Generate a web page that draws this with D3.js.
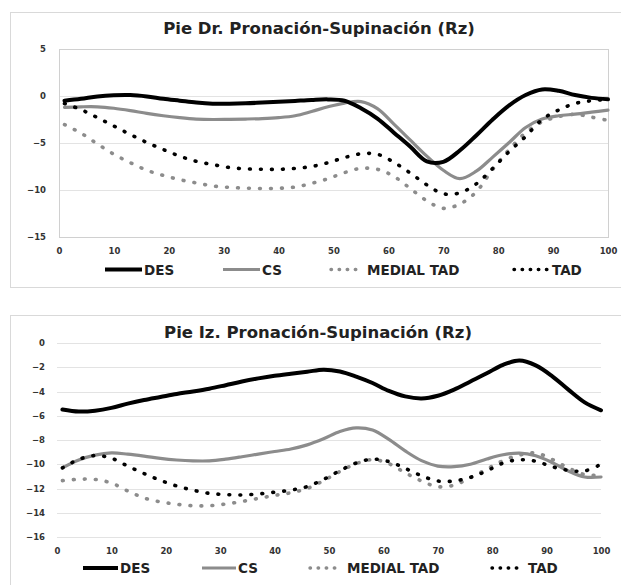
<!DOCTYPE html>
<html>
<head>
<meta charset="utf-8">
<script src="https://cdn.jsdelivr.net/npm/d3@7"></script>
<style>
  body { margin: 0; background: #fff; }
  svg text { font-family: "DejaVu Sans", sans-serif; font-weight: bold; }
</style>
</head>
<body>
<svg id="chart" width="621" height="585"></svg>
<script>
// % of the cycle (shared by every series)
const pct = [1, 4, 7, 10, 13, 16, 19, 22, 25, 28, 31, 34, 37, 40, 43, 46, 49, 52, 55, 58,
             61, 64, 67, 70, 73, 76, 79, 82, 85, 88, 91, 94, 97, 100];
const seriesNames = ["DES", "CS", "MEDIAL TAD", "TAD"];
const ticksX = [0, 10, 20, 30, 40, 50, 60, 70, 80, 90, 100];

// Pie Dr. (right foot)
const drTitle = "Pie Dr. Pronación-Supinación (Rz)";
const drTicksY = [5, 0, -5, -10, -15];
const drDES = [-0.5, -0.3, -0.05, 0.08, 0.1, -0.05, -0.3, -0.5, -0.7, -0.82, -0.82, -0.78, -0.7, -0.62,
               -0.52, -0.42, -0.36, -0.5, -1.3, -2.4, -3.9, -5.4, -6.95, -7.0, -5.8, -4.2, -2.5, -1.0,
               0.1, 0.7, 0.55, 0.1, -0.2, -0.35];
const drCS = [-1.2, -1.15, -1.15, -1.3, -1.55, -1.85, -2.1, -2.3, -2.45, -2.5, -2.48, -2.45, -2.4, -2.3,
              -2.1, -1.65, -1.15, -0.75, -0.6, -1.35, -3.0, -4.7, -6.4, -7.9, -8.8, -8.0, -6.5, -4.95,
              -3.35, -2.45, -2.1, -1.93, -1.72, -1.5];
const drMedial = [-3.05, -3.95, -5.1, -6.2, -7.1, -7.9, -8.45, -8.9, -9.25, -9.57, -9.72, -9.8, -9.85, -9.82,
                  -9.68, -9.3, -8.8, -8.15, -7.7, -7.8, -8.55, -9.85, -11.15, -11.95, -11.5, -10.2, -7.8, -5.7,
                  -3.9, -2.75, -2.2, -1.95, -2.25, -2.6];
const drTAD = [-0.8, -1.45, -2.3, -3.2, -4.1, -4.95, -5.7, -6.4, -6.95, -7.3, -7.6, -7.75, -7.8, -7.8,
               -7.7, -7.5, -7.1, -6.55, -6.15, -6.2, -7.05, -8.2, -9.45, -10.4, -10.3, -9.35, -7.7, -5.9,
               -4.3, -2.5, -1.5, -0.8, -0.5, -0.35];

// Pie Iz. (left foot)
const izTitle = "Pie Iz. Pronación-Supinación (Rz)";
const izTicksY = [0, -2, -4, -6, -8, -10, -12, -14, -16];
const izDES = [-5.48, -5.65, -5.58, -5.35, -5.0, -4.7, -4.45, -4.2, -4.0, -3.77, -3.48, -3.18, -2.92, -2.7,
               -2.53, -2.37, -2.2, -2.35, -2.77, -3.3, -3.95, -4.4, -4.57, -4.35, -3.84, -3.17, -2.5, -1.8,
               -1.45, -1.85, -2.73, -3.85, -4.9, -5.55];
const izCS = [-10.3, -9.65, -9.25, -9.07, -9.17, -9.33, -9.52, -9.65, -9.72, -9.72, -9.58, -9.38, -9.16, -8.95,
              -8.74, -8.4, -7.9, -7.3, -7.0, -7.18, -7.95, -8.9, -9.7, -10.15, -10.2, -10.0, -9.57, -9.22,
              -9.08, -9.3, -9.85, -10.55, -11.05, -11.05];
const izMedial = [-11.35, -11.24, -11.25, -11.55, -12.2, -12.78, -13.1, -13.3, -13.42, -13.42, -13.28, -13.07, -12.82, -12.57,
                  -12.35, -12.0, -11.35, -10.6, -9.95, -9.62, -9.95, -10.7, -11.38, -11.85, -11.72, -11.1, -10.4, -9.7,
                  -9.25, -9.07, -9.6, -10.3, -10.85, -10.9];
const izTAD = [-10.3, -9.6, -9.28, -9.5, -10.15, -10.77, -11.33, -11.79, -12.14, -12.4, -12.5, -12.53, -12.45, -12.3,
               -12.13, -11.84, -11.25, -10.53, -9.9, -9.58, -9.78, -10.34, -10.95, -11.38, -11.38, -11.08, -10.55, -9.9,
               -9.63, -9.75, -10.2, -10.5, -10.55, -10.0];

// look of each series (same order as seriesNames)
const looks = [
  { color: "#000000", width: 4, dash: null },
  { color: "#8c8c8c", width: 3.2, dash: null },
  { color: "#8c8c8c", width: 3.6, dash: "0.8 10.2" },
  { color: "#000000", width: 3.6, dash: "0.8 10.2" }
];

const svg = d3.select("#chart");

function drawChart(o) {
  const g = svg.append("g");

  // outer frame of the chart
  g.append("rect")
    .attr("x", o.frame.x).attr("y", o.frame.y)
    .attr("width", o.frame.w).attr("height", o.frame.h)
    .attr("fill", "none").attr("stroke", "#d9d9d9");

  const x = d3.scaleLinear().domain([0, 100]).range([o.left, o.right]);
  const y = d3.scaleLinear().domain([o.yTicks[o.yTicks.length - 1], o.yTicks[0]]).range([o.bottom, o.top]);

  // gridlines
  g.append("g")
    .attr("transform", `translate(${o.left},0)`)
    .call(d3.axisLeft(y).tickValues(o.yTicks).tickSize(-(o.right - o.left)).tickFormat(""))
    .call(a => a.select(".domain").remove())
    .call(a => a.selectAll("line").attr("stroke", "#e3e3e3").attr("shape-rendering", "crispEdges"));

  if (o.border) {
    g.append("rect")
      .attr("x", o.left).attr("y", o.top)
      .attr("width", o.right - o.left).attr("height", o.bottom - o.top)
      .attr("fill", "none").attr("stroke", "#d0d0d0").attr("shape-rendering", "crispEdges");
  }

  // y tick labels
  g.append("g")
    .attr("transform", `translate(${o.yLabelX},0)`)
    .call(d3.axisLeft(y).tickValues(o.yTicks).tickSize(0).tickPadding(0))
    .call(a => a.select(".domain").remove())
    .call(a => a.selectAll("text").attr("font-size", 8.5).attr("fill", "#333").attr("font-family", null));

  // x tick labels
  g.append("g")
    .attr("transform", `translate(0,${o.xLabelY})`)
    .call(d3.axisBottom(x).tickValues(ticksX).tickSize(0).tickPadding(0))
    .call(a => a.select(".domain").remove())
    .call(a => a.selectAll("text").attr("font-size", 8.5).attr("fill", "#333").attr("font-family", null));

  // title
  g.append("text")
    .attr("x", o.titleX).attr("y", o.titleY)
    .attr("text-anchor", "middle")
    .attr("font-size", 16.5)
    .attr("fill", "#222")
    .text(o.title);

  // series lines
  const line = d3.line()
    .x((d, i) => x(pct[i]))
    .y(d => y(d))
    .curve(d3.curveCatmullRom.alpha(0.5));

  const order = [1, 2, 3, 0];
  order.forEach(k => {
    const lk = looks[k];
    g.append("path")
      .datum(o.series[k])
      .attr("d", line)
      .attr("fill", "none")
      .attr("stroke", lk.color)
      .attr("stroke-width", lk.width)
      .attr("stroke-linecap", "round")
      .attr("stroke-linejoin", "round")
      .attr("stroke-dasharray", lk.dash);
  });

  // legend
  seriesNames.forEach((name, k) => {
    const lk = looks[k];
    const it = o.legend[k];
    g.append("line")
      .attr("x1", it[0]).attr("x2", it[1])
      .attr("y1", o.legendY).attr("y2", o.legendY)
      .attr("stroke", lk.color)
      .attr("stroke-width", lk.dash ? 3.4 : lk.width)
      .attr("stroke-linecap", lk.dash ? "round" : "butt")
      .attr("stroke-dasharray", lk.dash ? "0.5 7.6" : null);
    g.append("text")
      .attr("x", it[2]).attr("y", o.legendY + 5)
      .attr("font-size", 13.5)
      .attr("fill", "#222")
      .text(name);
  });
}

drawChart({
  title: drTitle, titleX: 319, titleY: 33.5,
  frame: { x: 10.5, y: 12.5, w: 640, h: 275 },
  left: 59, right: 608, top: 49, bottom: 237,
  yTicks: drTicksY, yLabelX: 46, xLabelY: 247.5,
  border: true,
  series: [drDES, drCS, drMedial, drTAD],
  legendY: 269.5,
  legend: [[105, 142, 144], [223, 260, 262], [331, 362, 367], [514, 547, 552]]
});

drawChart({
  title: izTitle, titleX: 318, titleY: 337.5,
  frame: { x: 10.5, y: 315.5, w: 640, h: 300 },
  left: 57, right: 601, top: 343, bottom: 537,
  yTicks: izTicksY, yLabelX: 45, xLabelY: 547.5,
  border: false,
  series: [izDES, izCS, izMedial, izTAD],
  legendY: 568,
  legend: [[83, 118, 120], [202, 236, 238], [310, 341, 347], [492, 523, 528]]
});
</script>
</body>
</html>
